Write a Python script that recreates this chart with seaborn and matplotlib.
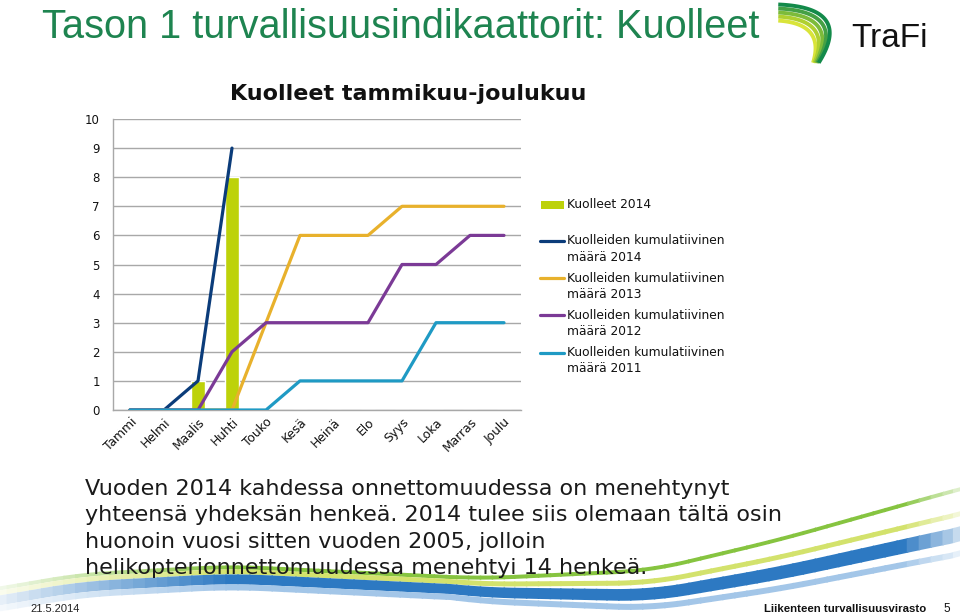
import numpy as np
import pandas as pd
import matplotlib
matplotlib.use("Agg")
import matplotlib.pyplot as plt
import seaborn as sns
from matplotlib.lines import Line2D
from matplotlib.patches import Rectangle
from matplotlib.colors import to_rgb

# ---------------- data ----------------
months = ["Tammi", "Helmi", "Maalis", "Huhti", "Touko", "Kesä",
          "Heinä", "Elo", "Syys", "Loka", "Marras", "Joulu"]
deaths_2014 = [0, 0, 1, 8, 0, 0, 0, 0, 0, 0, 0, 0]
cum_2014 = [0, 0, 1, 9, np.nan, np.nan, np.nan, np.nan, np.nan, np.nan, np.nan, np.nan]
cum_2013 = [0, 0, 0, 0, 3, 6, 6, 6, 7, 7, 7, 7]
cum_2012 = [0, 0, 0, 2, 3, 3, 3, 3, 5, 5, 6, 6]
cum_2011 = [0, 0, 0, 0, 0, 1, 1, 1, 1, 3, 3, 3]
y_ticks = list(range(0, 11))

bar_label = "Kuolleet 2014"
line_labels = ["Kuolleiden kumulatiivinen\nmäärä 2014",
               "Kuolleiden kumulatiivinen\nmäärä 2013",
               "Kuolleiden kumulatiivinen\nmäärä 2012",
               "Kuolleiden kumulatiivinen\nmäärä 2011"]

title = "Tason 1 turvallisuusindikaattorit: Kuolleet"
subtitle = "Kuolleet tammikuu-joulukuu"
body_lines = ["Vuoden 2014 kahdessa onnettomuudessa on menehtynyt",
              "yhteensä yhdeksän henkeä. 2014 tulee siis olemaan tältä osin",
              "huonoin vuosi sitten vuoden 2005, jolloin",
              "helikopterionnettomuudessa menehtyi 14 henkeä."]
footer_left = "21.5.2014"
footer_right = "Liikenteen turvallisuusvirasto"
page_no = "5"

# ---------------- style ----------------
bar_color = "#BDD20A"
line_colors = ["#0B3C7A", "#E8B12C", "#7B3A96", "#1F9AC4"]
grid_color = "#A8A8A8"
title_green = "#1E8450"

sns.set_theme(style="white")
plt.rcParams["font.family"] = ["DejaVu Sans"]
ARIAL = ["Liberation Sans", "DejaVu Sans"]

W, H = 960, 615
fig = plt.figure(figsize=(W / 100, H / 100), dpi=100)
fig.patch.set_facecolor("white")

def fx(px):
    return px / W

def fy(py):
    return 1 - py / H

# ------------- background swoosh decoration -------------
bg = fig.add_axes([0, 0, 1, 1], zorder=-5)
bg.set_xlim(0, W)
bg.set_ylim(H, 0)
bg.axis("off")
xs = np.linspace(-40, W + 40, 700)
gx = [-40, 0, 80, 230, 480, 650, 780, 947, 1000]
gy = [592, 586, 572, 564, 576, 568, 537, 490, 476]
g = np.interp(xs, gx, gy)
kern = np.ones(51) / 51
g = np.convolve(np.pad(g, 25, mode="edge"), kern, mode="valid")
s = np.clip((xs - 450) / 500, 0, 1)
bands = [  # top offset, thickness, colour
    (0 * s, 4 + 0 * s, "#86C440"),
    (4 + 20 * s, 5 + 0 * s, "#D3E26C"),
    (9 + 30 * s, 10 + 5 * s, "#2D79C2"),
    (19 + 44 * s, 6 + 0 * s, "#A3C6E8"),
]
nseg = 90
edges = np.linspace(0, len(xs) - 1, nseg + 1).astype(int)
white = np.array([1.0, 1.0, 1.0])
for off, th, col in bands:
    top = g + off
    bot = top + th
    rgb = np.array(to_rgb(col))
    for a, b in zip(edges[:-1], edges[1:]):
        xm = xs[(a + b) // 2]
        alpha = float(np.clip(0.12 + xm / 260, 0.12, 1.0))
        if xm > 900:
            alpha = float(np.clip(1 - (xm - 900) / 80, 0.1, 1.0))
        mix = tuple(rgb * alpha + white * (1 - alpha))
        sl = slice(a, b + 2)
        bg.fill_between(xs[sl], top[sl], bot[sl], color=mix, lw=0)

# ---------------- chart ----------------
ax = fig.add_axes([fx(113), fy(410), fx(521) - fx(113), fy(119) - fy(410)])
ax.set_facecolor("none")
df = pd.DataFrame({"month": months, "deaths": deaths_2014,
                   "pos": np.arange(len(months)),
                   "c2014": cum_2014, "c2013": cum_2013,
                   "c2012": cum_2012, "c2011": cum_2011})

sns.barplot(data=df, x="month", y="deaths", order=months, color=bar_color,
            saturation=1, width=0.4, ax=ax, zorder=2)
for col, c in zip(["c2014", "c2013", "c2012", "c2011"], line_colors):
    sns.lineplot(data=df, x="pos", y=col, color=c, lw=2.3, ax=ax, zorder=3)

ax.set_xlim(-0.5, 11.5)
ax.set_ylim(0, 10)
ax.set_yticks(y_ticks)
ax.set_yticklabels([str(t) for t in y_ticks])
ax.set_xticks(np.arange(len(months)))
ax.set_xticklabels(months, rotation=45, ha="right", rotation_mode="anchor")
ax.set_xlabel("")
ax.set_ylabel("")
ax.yaxis.grid(True, color=grid_color, lw=1, zorder=0)
ax.set_axisbelow(True)
for sp in ["top", "right"]:
    ax.spines[sp].set_visible(False)
for sp in ["left", "bottom"]:
    ax.spines[sp].set_color(grid_color)
    ax.spines[sp].set_linewidth(1)
ax.tick_params(axis="y", length=0, pad=9.5, labelsize=8.5, labelcolor="#111111")
ax.tick_params(axis="x", length=0, pad=4, labelsize=8.8, labelcolor="#111111")
if ax.get_legend():
    ax.get_legend().remove()

# ---------------- legend (manual, Excel-like) ----------------
LEG_FS = 8.8
fig.add_artist(Rectangle((fx(541), fy(209)), fx(23), fy(201) - fy(209),
                         transform=fig.transFigure, color=bar_color, lw=0))
fig.text(fx(567), fy(205), bar_label, fontsize=LEG_FS,
         va="center", ha="left", color="#111111")
for i, (lab, c) in enumerate(zip(line_labels, line_colors)):
    y0 = 241 + i * 37.2
    fig.add_artist(Line2D([fx(540), fx(564)], [fy(y0), fy(y0)],
                          transform=fig.transFigure, color=c, lw=2.3))
    l1, l2 = lab.split("\n")
    fig.text(fx(567), fy(y0), l1, fontsize=LEG_FS,
             va="center", ha="left", color="#111111")
    fig.text(fx(567), fy(y0 + 16), l2, fontsize=LEG_FS,
             va="center", ha="left", color="#111111")

# ---------------- texts ----------------
fig.text(fx(42), fy(38), title, fontsize=28.6, color=title_green,
         family=ARIAL, va="baseline", ha="left")
fig.text(fx(408), fy(100), subtitle, fontsize=16, fontweight="bold",
         color="#111111", va="baseline", ha="center")
for i, line in enumerate(body_lines):
    fig.text(fx(85), fy(495 + i * 26.3), line, fontsize=16,
             color="#1A1A1A", va="baseline", ha="left")
fig.text(fx(30), fy(612), footer_left, fontsize=8, family=ARIAL,
         color="#222222", va="baseline", ha="left")
fig.text(fx(926), fy(612), footer_right, fontsize=8.2, family=ARIAL,
         fontweight="bold", color="#111111", va="baseline", ha="right")
fig.text(fx(947), fy(612), page_no, fontsize=8.5, family=ARIAL,
         color="#111111", va="baseline", ha="center")

# ---------------- logo ----------------
lg = fig.add_axes([fx(774), fy(64), fx(845) - fx(774), fy(2) - fy(64)], zorder=5)
lg.set_xlim(0, 1)
lg.set_ylim(0, 1)
lg.axis("off")
logo_cols = ["#D9E43A", "#B0D030", "#7DBB3A", "#45A045", "#138A4A"]
t = np.linspace(0, 1, 80)
for i, c in enumerate(logo_cols):
    yy = 0.70 + 0.065 * i
    p0 = np.array([0.06, yy])
    p1 = np.array([0.72 + 0.10 * i, yy - 0.05])
    p2 = np.array([0.55 + 0.02 * i, 0.02])
    pts = ((1 - t) ** 2)[:, None] * p0 + (2 * (1 - t) * t)[:, None] * p1 + (t ** 2)[:, None] * p2
    lg.plot(pts[:, 0], pts[:, 1], color=c, lw=2.8, solid_capstyle="butt")
fig.text(fx(851), fy(47), "TraFi", fontsize=24, family=ARIAL, color="#111111",
         va="baseline", ha="left")

fig.savefig("out.png", dpi=100)
